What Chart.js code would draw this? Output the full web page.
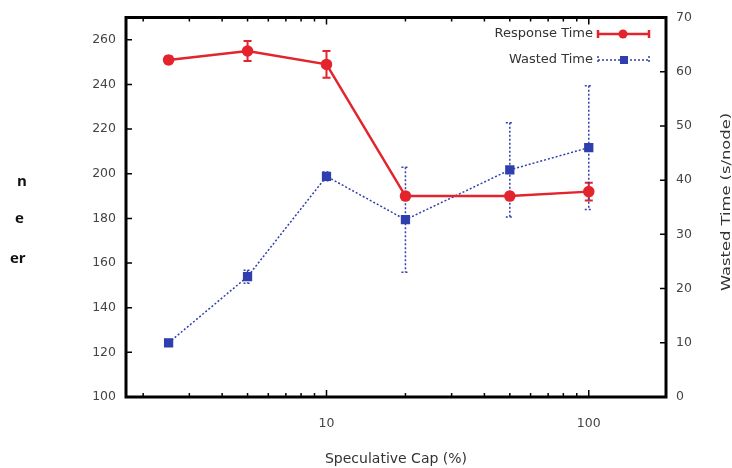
<!DOCTYPE html>
<html lang="en">
<head>
  <meta charset="UTF-8" />
  <title>Speculative Cap</title>
  <script src="https://cdn.jsdelivr.net/npm/chart.js"></script>
  <style>
    body {
      margin: 0;
      background: #fff;
    }
    .wrap {
      position: relative;
      width: 732px;
      height: 468px;
      overflow: hidden;
    }
    .cut {
      position: absolute;
      font: bold 15px 'Open Sans', sans-serif;
      color: #111;
    }
  </style>
</head>
<body>

  <div class="wrap">
    <canvas id="capChart" width="732" height="468"></canvas>
    <div class="cut" style="left:17px; top:170px">n</div>
    <div class="cut" style="left:15px; top:207px">e</div>
    <div class="cut" style="left:10px; top:247px">er</div>
  </div>

  <script>
    // values
    const capValues = [2.5, 5, 10, 20, 50, 100];
    const responseTime = [251, 255, 249, 190, 190, 192];
    const responseErr = [1.5, 4.5, 6, 1.5, 1.5, 4];
    const wastedTime = [10, 22.2, 40.7, 32.7, 41.9, 46];
    const wastedErr = [0.6, 1.2, 0.8, 9.7, 8.7, 11.4];

    const xTickValues = [2, 3, 4, 5, 6, 7, 8, 9, 10, 20, 30, 40, 50, 60, 70, 80, 90, 100];
    const leftTickValues = [100, 120, 140, 160, 180, 200, 220, 240, 260];
    const rightTickValues = [0, 10, 20, 30, 40, 50, 60, 70];

    const red = '#e3242c';
    const blue = '#2f3fae';
    const fam = "'DejaVu Sans', sans-serif";
    const tickFont = { family: fam, size: 12.5 };

    // error bars, drawn with the chart's scales
    const errorBars = {
      id: 'errorBars',
      beforeDatasetsDraw(chart) {
        const ctx = chart.ctx;
        const x = chart.scales.x;
        chart.data.datasets.forEach(ds => {
          const y = chart.scales[ds.yAxisID];
          ctx.save();
          ctx.strokeStyle = ds.borderColor;
          ctx.lineWidth = ds.errWidth;
          ctx.setLineDash(ds.borderDash || []);
          ds.errors.forEach((e, i) => {
            const px = x.getPixelForValue(capValues[i]);
            const top = y.getPixelForValue(ds.data[i].y + e);
            const bot = y.getPixelForValue(ds.data[i].y - e);
            ctx.beginPath();
            ctx.moveTo(px, top); ctx.lineTo(px, bot);
            ctx.moveTo(px - 4, top); ctx.lineTo(px + 4, top);
            ctx.moveTo(px - 4, bot); ctx.lineTo(px + 4, bot);
            ctx.stroke();
          });
          ctx.restore();
        });
      }
    };

    // gnuplot style frame, inward ticks, legend and right title
    const frame = {
      id: 'frame',
      afterDraw(chart) {
        const ctx = chart.ctx;
        const a = chart.chartArea;
        const { x, y, y2 } = chart.scales;
        ctx.save();
        ctx.strokeStyle = '#000';
        ctx.lineWidth = 1.5;
        ctx.beginPath();
        xTickValues.forEach(v => {
          const px = x.getPixelForValue(v);
          const len = (v === 10 || v === 100) ? 7 : 4;
          ctx.moveTo(px, a.bottom); ctx.lineTo(px, a.bottom - len);
          ctx.moveTo(px, a.top); ctx.lineTo(px, a.top + len);
        });
        leftTickValues.forEach(v => {
          const py = y.getPixelForValue(v);
          ctx.moveTo(a.left, py); ctx.lineTo(a.left + 6, py);
        });
        rightTickValues.forEach(v => {
          const py = y2.getPixelForValue(v);
          ctx.moveTo(a.right, py); ctx.lineTo(a.right - 6, py);
        });
        ctx.stroke();
        ctx.lineWidth = 3;
        ctx.strokeRect(a.left, a.top, a.right - a.left, a.bottom - a.top);

        // legend
        ctx.font = '13px ' + fam;
        ctx.fillStyle = '#333';
        ctx.textAlign = 'right';
        ctx.textBaseline = 'middle';
        ctx.fillText('Response Time', 593, 34);
        ctx.fillText('Wasted Time', 593, 60);

        ctx.strokeStyle = red;
        ctx.fillStyle = red;
        ctx.lineWidth = 2.5;
        ctx.beginPath();
        ctx.moveTo(598, 34); ctx.lineTo(649, 34);
        ctx.moveTo(598, 30); ctx.lineTo(598, 38);
        ctx.moveTo(649, 30); ctx.lineTo(649, 38);
        ctx.stroke();
        ctx.beginPath();
        ctx.arc(623, 34, 4.5, 0, Math.PI * 2);
        ctx.fill();

        ctx.strokeStyle = blue;
        ctx.fillStyle = blue;
        ctx.lineWidth = 1.5;
        ctx.setLineDash([2, 2]);
        ctx.beginPath();
        ctx.moveTo(598, 60); ctx.lineTo(649, 60);
        ctx.moveTo(598, 56); ctx.lineTo(598, 64);
        ctx.moveTo(649, 56); ctx.lineTo(649, 64);
        ctx.stroke();
        ctx.setLineDash([]);
        ctx.fillRect(620, 56, 8, 8);

        // right axis title, reading bottom to top, stretched like the original
        ctx.translate(727, 202);
        ctx.rotate(-Math.PI / 2);
        ctx.scale(1.36, 1);
        ctx.fillStyle = '#333';
        ctx.textAlign = 'center';
        ctx.font = '12px ' + fam;
        ctx.fillText('Wasted Time (s/node)', 0, 0);
        ctx.restore();
      }
    };

    new Chart(document.getElementById('capChart'), {
      type: 'line',
      data: {
        datasets: [
          {
            label: 'Response Time',
            data: capValues.map((c, i) => ({ x: c, y: responseTime[i] })),
            errors: responseErr,
            errWidth: 2,
            yAxisID: 'y',
            borderColor: red,
            backgroundColor: red,
            borderWidth: 2.5,
            pointRadius: 4.5,
            pointStyle: 'circle',
            tension: 0
          },
          {
            label: 'Wasted Time',
            data: capValues.map((c, i) => ({ x: c, y: wastedTime[i] })),
            errors: wastedErr,
            errWidth: 1.5,
            yAxisID: 'y2',
            borderColor: blue,
            backgroundColor: blue,
            borderWidth: 1.5,
            borderDash: [2, 2],
            pointRadius: 5.5,
            pointStyle: 'rect',
            tension: 0
          }
        ]
      },
      options: {
        responsive: false,
        animation: false,
        layout: { padding: { top: 15, left: 0, right: 0, bottom: 0 } },
        plugins: {
          legend: { display: false },
          tooltip: { enabled: false }
        },
        scales: {
          x: {
            type: 'logarithmic',
            min: 1.72,
            max: 197,
            afterBuildTicks(scale) {
              scale.ticks = xTickValues.map(v => ({ value: v }));
            },
            afterFit(scale) { scale.height = 71; },
            grid: { display: false, drawTicks: false },
            border: { display: false },
            ticks: {
              autoSkip: false,
              maxRotation: 0,
              padding: 19,
              color: '#444',
              font: tickFont,
              callback: v => (v === 10 || v === 100) ? String(v) : ''
            },
            title: {
              display: true,
              text: 'Speculative Cap (%)',
              color: '#333',
              font: { family: fam, size: 14 },
              padding: { top: 0, bottom: 0 }
            }
          },
          y: {
            position: 'left',
            min: 100,
            max: 270,
            afterBuildTicks(scale) {
              scale.ticks = leftTickValues.map(v => ({ value: v }));
            },
            afterFit(scale) { scale.width = 126; },
            grid: { display: false, drawTicks: false },
            border: { display: false },
            ticks: { padding: 10, color: '#444', font: tickFont }
          },
          y2: {
            position: 'right',
            min: 0,
            max: 70,
            afterBuildTicks(scale) {
              scale.ticks = rightTickValues.map(v => ({ value: v }));
            },
            afterFit(scale) { scale.width = 66; },
            grid: { display: false, drawTicks: false },
            border: { display: false },
            ticks: { padding: 10, color: '#444', font: tickFont }
          }
        }
      },
      plugins: [errorBars, frame]
    });
  </script>

</body>
</html>
